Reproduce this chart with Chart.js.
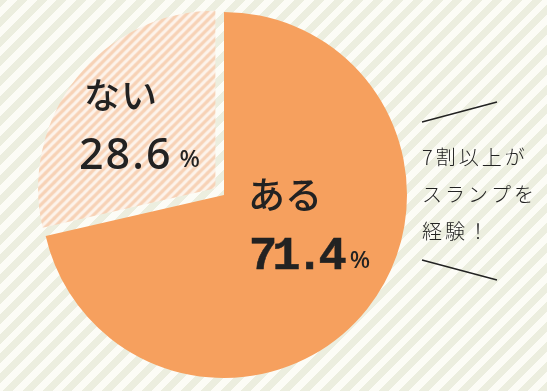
<!DOCTYPE html>
<html>
<head>
<meta charset="utf-8">
<script src="https://cdn.jsdelivr.net/npm/chart.js@4"></script>
<style>
  html, body { margin: 0; padding: 0; }
  body {
    width: 547px; height: 391px; overflow: hidden;
    background: repeating-linear-gradient(-45deg, #eceedf 0px, #eceedf 7px, #fcfcf6 7px, #fcfcf6 14px);
  }
  #wrap { position: relative; width: 547px; height: 391px; }
</style>
</head>
<body>
<div id="wrap"><canvas id="pie" width="547" height="391"></canvas></div>
<script>
// data
const labels = ["ある", "ない"];
const percents = [71.4, 28.6];
const valueTexts = ["71.4", "28.6"];
const noteLines = ["7割以上が", "スランプを", "経験！"];

// striped fill for the smaller slice
function makeStripes() {
    const s = 9;
    const c = document.createElement("canvas");
    c.width = s; c.height = s;
    const g = c.getContext("2d");
    g.fillStyle = "#fdf4ec";
    g.fillRect(0, 0, s, s);
    g.strokeStyle = "#f7d2b6";
    g.lineWidth = 3.2;
    g.beginPath();
    g.moveTo(-1, s + 1); g.lineTo(s + 1, -1);
    g.moveTo(-1, 1); g.lineTo(1, -1);
    g.moveTo(s - 1, s + 1); g.lineTo(s + 1, s - 1);
    g.stroke();
    return g.createPattern(c, "repeat");
}

// labels inside slices + the note on the right
const textPlugin = {
    id: "texts",
    afterDatasetsUpdate(chart) {
        // the striped slice is a bit smaller than the orange one
        const arc = chart.getDatasetMeta(0).data[1];
        arc.outerRadius = arc.outerRadius - 6;
    },
    afterDraw(chart) {
        const ctx = chart.ctx;
        const arcs = chart.getDatasetMeta(0).data;
        const cx = arcs[0].x, cy = arcs[0].y;
        ctx.save();
        ctx.fillStyle = "#222";
        ctx.textBaseline = "alphabetic";
        ctx.textAlign = "left";

        // ある 71.4%
        ctx.font = "500 37px 'Noto Sans CJK JP'";
        ctx.fillText(labels[0], cx + 24, cy + 14);
        ctx.font = "bold 47px 'Liberation Mono'";
        ctx.letterSpacing = "-5px";
        ctx.fillText(valueTexts[0], cx + 25, cy + 74);
        ctx.strokeStyle = "#222";
        ctx.lineWidth = 0.5;
        ctx.strokeText(valueTexts[0], cx + 25, cy + 74);
        let w = ctx.measureText(valueTexts[0]).width;
        ctx.letterSpacing = "0px";
        ctx.font = "500 24px 'Noto Sans'";
        ctx.fillText("%", cx + 25 + w + 8, cy + 73);

        // ない 28.6%
        ctx.font = "500 36px 'Noto Sans CJK JP'";
        ctx.letterSpacing = "1px";
        ctx.fillText(labels[1], cx - 140, cy - 86);
        ctx.font = "500 43px 'Noto Sans'";
        ctx.letterSpacing = "2px";
        ctx.fillText(valueTexts[1], cx - 145, cy - 26);
        w = ctx.measureText(valueTexts[1]).width;
        ctx.letterSpacing = "0px";
        ctx.font = "500 24px 'Noto Sans'";
        ctx.fillText("%", cx - 145 + w + 7, cy - 28);

        // note on the right
        ctx.font = "300 20px 'Noto Sans CJK JP'";
        ctx.letterSpacing = "3px";
        noteLines.forEach((line, i) => {
            ctx.fillText(line, 422, 165 + i * 37);
        });
        ctx.letterSpacing = "0px";
        ctx.strokeStyle = "#222";
        ctx.lineWidth = 1.4;
        ctx.beginPath();
        ctx.moveTo(422, 122); ctx.lineTo(497, 102);
        ctx.moveTo(422, 260); ctx.lineTo(497, 280);
        ctx.stroke();
        ctx.restore();
    }
};

new Chart(document.getElementById("pie"), {
    type: "pie",
    data: {
        labels: labels,
        datasets: [{
            data: percents,
            backgroundColor: ["#f6a05e", makeStripes()],
            borderWidth: 0,
            // chart.js v4 draws offset / 4 px
            offset: [0, 44],
        }],
    },
    options: {
        responsive: false,
        animation: false,
        radius: 183,
        layout: { padding: { left: 0, right: 99, top: 0, bottom: 1 } },
        plugins: {
            legend: { display: false },
            tooltip: { enabled: false },
        },
    },
    plugins: [textPlugin],
});
</script>
</body>
</html>
